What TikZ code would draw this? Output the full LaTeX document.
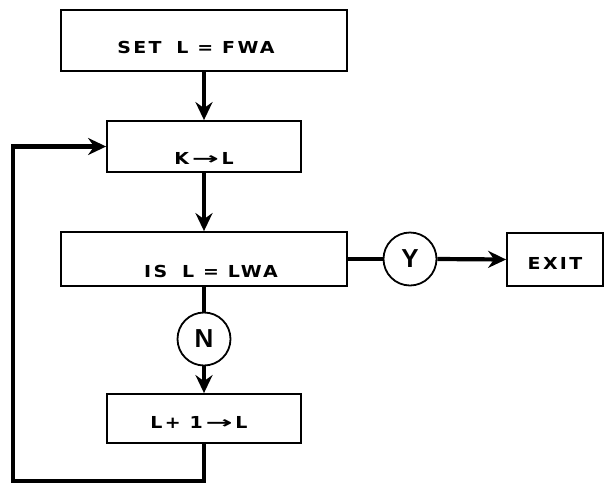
\documentclass[tikz,border=0pt]{standalone}
\usepackage{fontspec}
\usetikzlibrary{arrows.meta}
\newfontfamily\boxfont{DejaVu Sans}[FakeStretch=1.15,LetterSpace=14]
\newfontfamily\circfont{Liberation Sans}
\newcommand\longarr{\scalebox{1.7}[1]{→}}
\begin{document}
\begin{tikzpicture}[x=1pt,y=-1pt,
  box/.style={draw, line width=1.8pt, inner sep=0pt,
    font=\boxfont\bfseries\fontsize{16.5}{16.5}\selectfont},
  circ/.style={draw, circle, line width=1.8pt, inner sep=0pt, minimum size=53pt,
    font=\circfont\bfseries\fontsize{26}{26}\selectfont},
  conn/.style={line width=4.2pt, line join=miter},
  arr/.style={conn, -{Stealth[length=18pt,width=17pt,inset=6pt]}}]
\useasboundingbox (0,0) rectangle (609,485);
\node[box, minimum width=286pt, text height=43pt, text depth=18pt] (b1) at (204,40.5) {\hspace*{-16pt}SET\hspace{0.9em}L = FWA};
\node[box, minimum width=194pt, text height=43pt, text depth=8pt] (b2) at (204,146.5) {K\,\longarr\,L};
\node[box, minimum width=286pt, text height=45pt, text depth=9pt] (b3) at (204,259) {\hspace*{14pt}IS\hspace{0.9em}L = LWA};
\node[circ] (y) at (410,259) {Y};
\node[box, minimum width=96pt, text height=36pt, text depth=17pt] (ex) at (555,259.5) {EXIT};
\node[circ] (n) at (204,339) {N};
\node[box, minimum width=194pt, text height=34pt, text depth=15pt] (b4) at (204,418.5) {\hspace*{-10pt}L+ 1\,\longarr\,L};
\coordinate (c1) at (13,481);
\draw[arr] (b1.south) -- (b2.north);
\draw[arr] (b2.south) -- (b3.north);
\draw[conn] (b3.east) -- (y.west);
\draw[arr] (y.east) -- (ex.west);
\draw[conn] (b3.south) -- (n.north);
\draw[arr] (n.south) -- (b4.north);
\draw[arr] (b4.south) |- (c1) |- (b2.west);
\end{tikzpicture}
\end{document}
